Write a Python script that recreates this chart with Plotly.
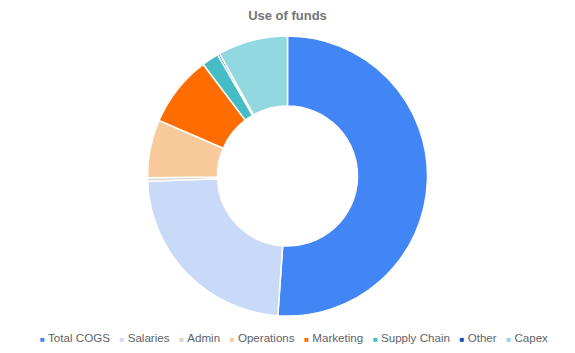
import plotly.graph_objects as go

labels = ["Total COGS", "Salaries", "Admin", "Operations", "Marketing", "Supply Chain", "Other", "Capex"]
values = [51.1, 23.3, 0.4, 6.7, 8.2, 2.0, 0.25, 8.05]
colors = ["#4285F4", "#C9DAF8", "#DDD3C8", "#F9CB9C", "#FF6D01", "#46BDC6", "#0B4FB3", "#93D7E0"]

fig = go.Figure(go.Pie(
    labels=labels, values=values, hole=0.5, sort=False, direction="clockwise", rotation=0,
    marker=dict(colors=colors, line=dict(color="white", width=1.5)),
    textinfo="none", hoverinfo="label+percent",
))

sep = "&nbsp;&nbsp;&nbsp;"
legend_text = sep.join(
    f'<span style="color:{c};font-size:8px">■</span>&nbsp;{l}' for l, c in zip(labels, colors)
)
fig.add_annotation(
    text=legend_text, x=294/575, xref="paper", xanchor="center",
    y=(353-337-37)/(353-36-37), yref="paper", yanchor="middle", showarrow=False,
    font=dict(family="Liberation Sans, Arial", size=11.6, color="#5f6368"),
)

fig.update_layout(
    width=575, height=353,
    margin=dict(l=0, r=0, t=36, b=37),
    paper_bgcolor="white",
    title=dict(text="<b>Use of funds</b>", x=0.5, xanchor="center", y=1 - 15/353, yanchor="middle",
               font=dict(family="Liberation Sans, Arial", size=13, color="#757575")),
    showlegend=False,
)
fig.write_html("out.html")
